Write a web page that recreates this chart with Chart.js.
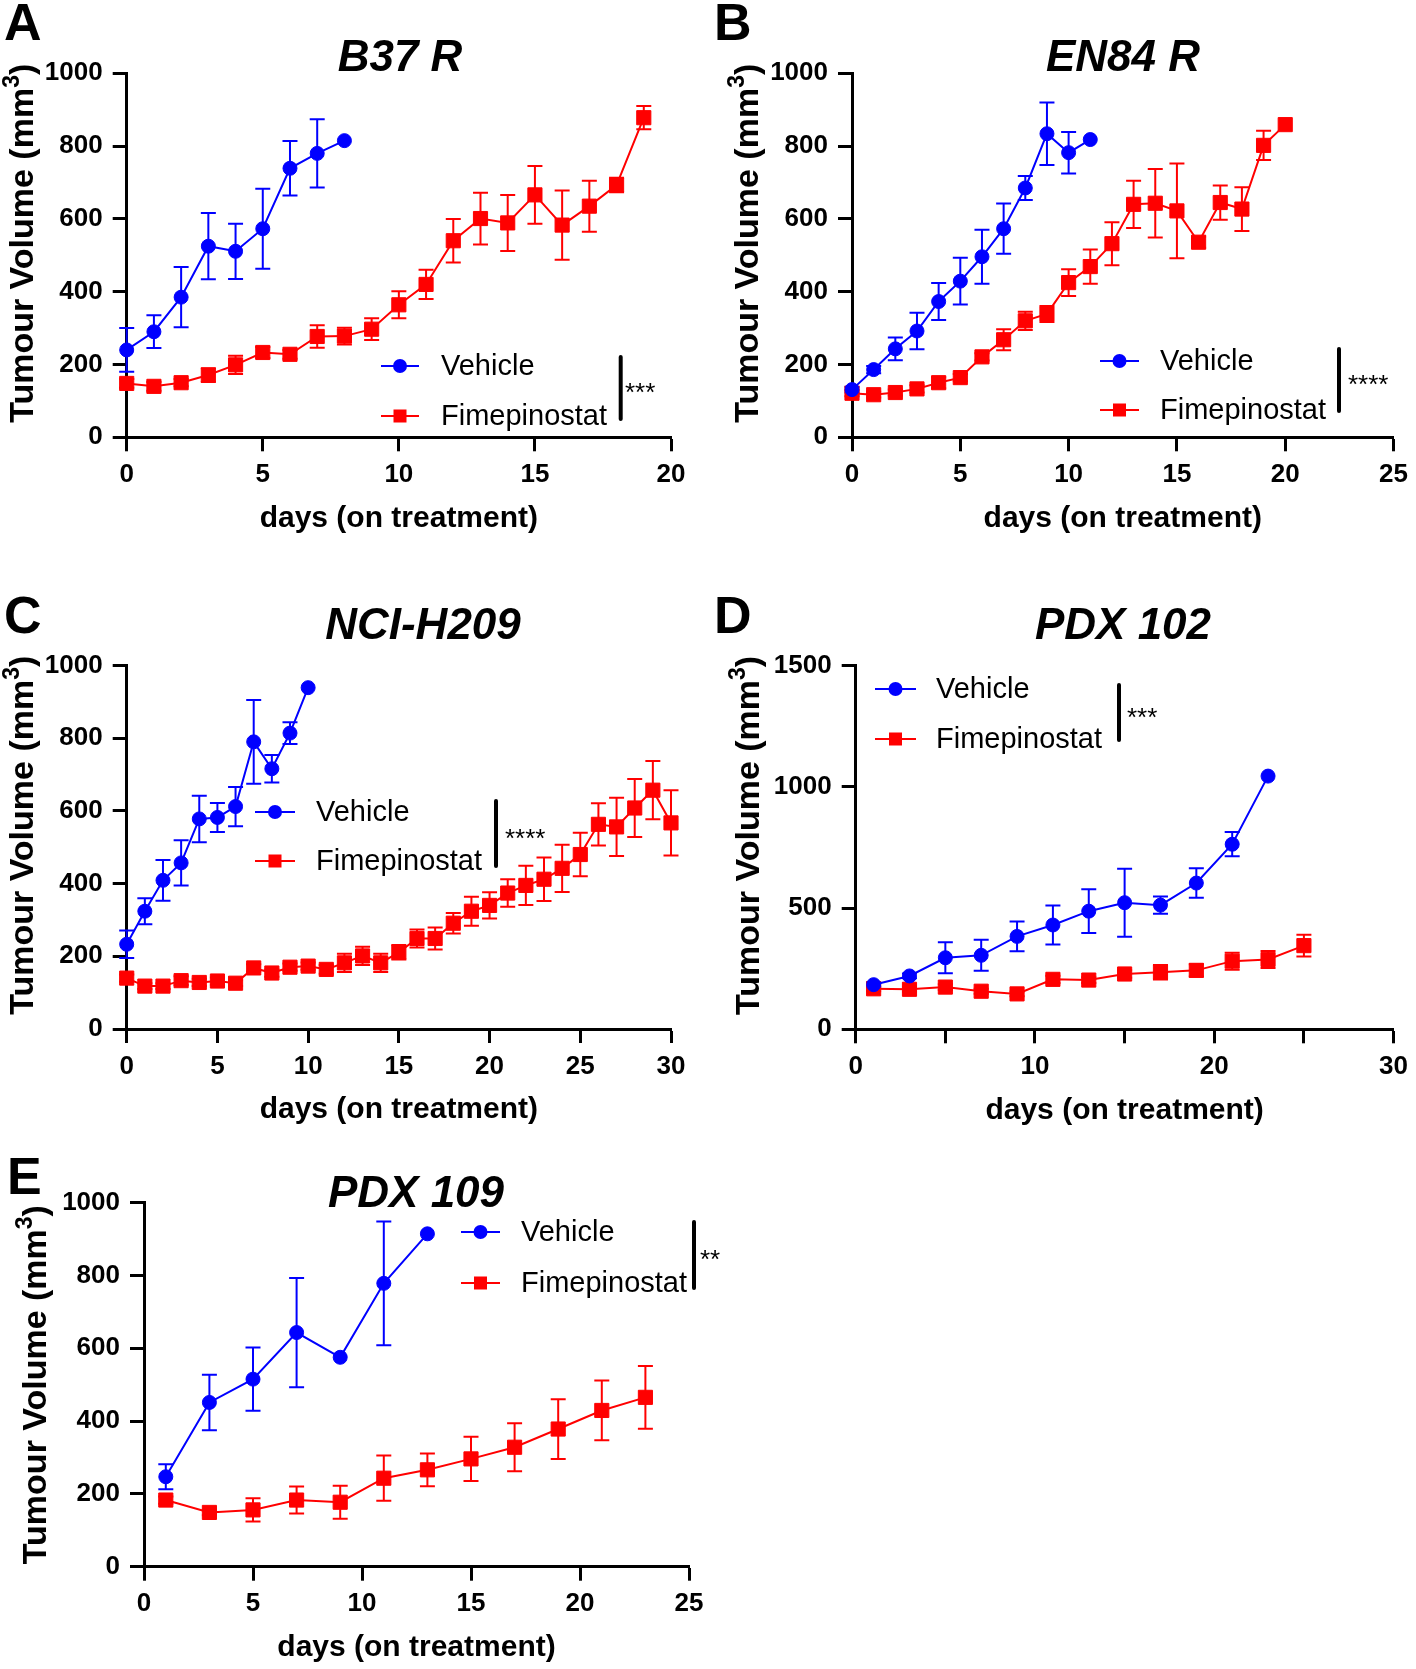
<!DOCTYPE html>
<html>
<head>
<meta charset="utf-8">
<script src="https://cdn.jsdelivr.net/npm/chart.js@4"></script>
<style>
  html, body { margin: 0; padding: 0; background: #fff; }
  #wrap { position: relative; width: 1416px; height: 1669px; }
  #wrap canvas { position: absolute; left: 0; top: 0; }
</style>
</head>
<body>
<div id="wrap">
  <canvas id="cA" width="1416" height="1669"></canvas>
  <canvas id="cB" width="1416" height="1669"></canvas>
  <canvas id="cC" width="1416" height="1669"></canvas>
  <canvas id="cD" width="1416" height="1669"></canvas>
  <canvas id="cE" width="1416" height="1669"></canvas>
</div>
<script>
// ---- data (mean and SEM, mm3) ----

// A - B37 R
let daysVehA = [0, 1, 2, 3, 4, 5, 6, 7, 8];
let vehA     = [240, 290, 385, 525, 511, 573, 739, 780, 815];
let vehSemA  = [60, 45, 83, 91, 76, 110, 75, 94, 0];
let daysFimA = [0, 1, 2, 3, 4, 5, 6, 7, 8, 9, 10, 11, 12, 13, 14, 15, 16, 17, 18, 19];
let fimA     = [148, 140, 150, 171, 199, 233, 228, 277, 278, 297, 364, 420, 540, 601, 589, 666, 583, 635, 693, 878];
let fimSemA  = [12, 12, 10, 19, 25, 15, 12, 31, 23, 30, 37, 40, 60, 71, 77, 79, 95, 70, 20, 32];

// B - EN84 R
let daysVehB = [0, 1, 2, 3, 4, 5, 6, 7, 8, 9, 10, 11];
let vehB     = [131, 186, 243, 292, 373, 429, 496, 573, 685, 834, 782, 818];
let vehSemB  = [8, 10, 31, 50, 51, 64, 74, 69, 33, 86, 57, 0];
let daysFimB = [0, 1, 2, 3, 4, 5, 6, 7, 8, 9, 10, 11, 12, 13, 14, 15, 16, 17, 18, 19, 20];
let fimB     = [121, 117, 123, 133, 150, 164, 221, 268, 320, 339, 425, 469, 532, 640, 643, 622, 536, 645, 627, 802, 859];
let fimSemB  = [8, 8, 8, 10, 15, 10, 10, 29, 25, 22, 37, 47, 59, 65, 94, 130, 15, 47, 60, 40, 0];

// C - NCI-H209
let daysVehC = [0, 1, 2, 3, 4, 5, 6, 7, 8, 9, 10];
let vehC     = [233, 324, 409, 457, 578, 582, 612, 790, 716, 814, 939];
let vehSemC  = [38, 36, 56, 62, 64, 40, 54, 115, 38, 30, 0];
let daysFimC = [0, 1, 2, 3, 4, 5, 6, 7, 8, 9, 10, 11, 12, 13, 14, 15, 16, 17, 18, 19, 20, 21, 22, 23, 24, 25, 26, 27, 28, 29, 30];
let fimC     = [140, 118, 118, 133, 128, 132, 126, 168, 154, 170, 173, 164, 182, 201, 182, 211, 249, 249, 291, 324, 340, 374, 395, 412, 442, 480, 563, 556, 608, 657, 567];
let fimSemC  = [10, 8, 8, 12, 10, 10, 8, 10, 10, 10, 10, 12, 25, 25, 25, 20, 25, 30, 28, 40, 36, 38, 54, 60, 65, 60, 58, 80, 80, 80, 90];

// D - PDX 102
let daysVehD = [1, 3, 5, 7, 9, 11, 13, 15, 17, 19, 21, 23];
let vehD     = [184, 220, 295, 305, 383, 430, 487, 522, 512, 603, 763, 1044];
let vehSemD  = [10, 10, 64, 64, 61, 80, 90, 140, 36, 61, 50, 0];
let daysFimD = [1, 3, 5, 7, 9, 11, 13, 15, 17, 19, 21, 23, 25];
let fimD     = [167, 165, 174, 157, 146, 206, 203, 228, 235, 243, 281, 288, 345];
let fimSemD  = [10, 10, 12, 10, 10, 15, 12, 15, 30, 25, 35, 35, 45];

// E - PDX 109
let daysVehE = [1, 3, 5, 7, 9, 11, 13];
let vehE     = [247, 451, 515, 643, 575, 778, 914];
let vehSemE  = [34, 76, 87, 150, 0, 170, 0];
let daysFimE = [1, 3, 5, 7, 9, 11, 13, 15, 17, 19, 21, 23];
let fimE     = [183, 149, 156, 183, 177, 243, 266, 296, 328, 378, 429, 465];
let fimSemE  = [10, 8, 32, 37, 45, 62, 45, 61, 66, 82, 82, 86];

let seriesNames = ['Vehicle', 'Fimepinostat'];
let blue = '#0000ff';
let red = '#ff0000';
let FONT = '"Liberation Sans", Arial, sans-serif';

// ---- layout of the five panels (page pixels) ----
let panels = [
  { id: 'cA', letter: 'A', lx: 4, ly: 40, title: 'B37 R', tx: 400, ty: 71,
    area: [126.7, 73.3, 671, 437.3], xMax: 20, xStep: 5, labelEvery: 5, yMax: 1000, yStep: 200,
    yTitleX: 21, yTitleShift: -12,
    leg: [381, 419, 441, 366, 416], sig: [620.7, 357, 419, 625], stars: '***',
    veh: [daysVehA, vehA, vehSemA], fim: [daysFimA, fimA, fimSemA] },
  { id: 'cB', letter: 'B', lx: 714, ly: 40, title: 'EN84 R', tx: 1123, ty: 71,
    area: [852, 73.3, 1398.3, 437.3], xMax: 25, xStep: 5, labelEvery: 5, yMax: 1000, yStep: 200,
    yTitleX: 746, yTitleShift: -12,
    leg: [1100, 1139, 1160, 361, 410], sig: [1339, 349, 411, 1348], stars: '****',
    veh: [daysVehB, vehB, vehSemB], fim: [daysFimB, fimB, fimSemB] },
  { id: 'cC', letter: 'C', lx: 4, ly: 633, title: 'NCI-H209', tx: 423, ty: 639,
    area: [126.7, 665.5, 671, 1029], xMax: 30, xStep: 5, labelEvery: 5, yMax: 1000, yStep: 200,
    yTitleX: 21, yTitleShift: -12,
    leg: [255, 295, 316, 812, 861], sig: [496, 801, 866, 505], stars: '****',
    veh: [daysVehC, vehC, vehSemC], fim: [daysFimC, fimC, fimSemC] },
  { id: 'cD', letter: 'D', lx: 714, ly: 633, title: 'PDX 102', tx: 1123, ty: 639,
    area: [855.7, 665.5, 1401, 1029.3], xMax: 30, xStep: 5, labelEvery: 10, yMax: 1500, yStep: 500,
    yTitleX: 747, yTitleShift: -12,
    leg: [875, 916, 936, 689, 739], sig: [1119, 685, 740, 1127], stars: '***',
    veh: [daysVehD, vehD, vehSemD], fim: [daysFimD, fimD, fimSemD] },
  { id: 'cE', letter: 'E', lx: 7, ly: 1194, title: 'PDX 109', tx: 416, ty: 1207,
    area: [144, 1202.5, 689, 1566.7], xMax: 25, xStep: 5, labelEvery: 5, yMax: 1000, yStep: 200,
    yTitleX: 34, yTitleShift: 0,
    leg: [461, 500, 521, 1232, 1283], sig: [694, 1222, 1288, 700], stars: '**',
    veh: [daysVehE, vehE, vehSemE], fim: [daysFimE, fimE, fimSemE] }
];

let deco = {};
panels.forEach(function (p) { deco[p.id] = p; });

function points(days, vals) {
  return days.map(function (d, i) { return { x: d, y: vals[i] }; });
}

function drawMarker(ctx, style, x, y, color) {
  ctx.fillStyle = color;
  if (style === 'circle') {
    ctx.beginPath();
    ctx.arc(x, y, 7, 0, Math.PI * 2);
    ctx.fill();
  } else {
    ctx.fillRect(x - 6.5, y - 6.5, 13, 13);
  }
}

// error bars (SEM) and all the panel decoration
let panelPlugin = {
  id: 'panelDeco',
  beforeDatasetsDraw: function (chart) {
    let ctx = chart.ctx, xs = chart.scales.x, ys = chart.scales.y;
    chart.data.datasets.forEach(function (ds) {
      ctx.save();
      ctx.strokeStyle = ds.borderColor;
      ctx.lineWidth = 2;
      ds.data.forEach(function (pt, i) {
        let e = ds.sem[i];
        if (!e) return;
        let px = xs.getPixelForValue(pt.x);
        let top = ys.getPixelForValue(pt.y + e);
        let bot = ys.getPixelForValue(pt.y - e);
        ctx.beginPath();
        ctx.moveTo(px, top); ctx.lineTo(px, bot);
        ctx.moveTo(px - 7.5, top); ctx.lineTo(px + 7.5, top);
        ctx.moveTo(px - 7.5, bot); ctx.lineTo(px + 7.5, bot);
        ctx.stroke();
      });
      ctx.restore();
    });
  },
  afterDraw: function (chart) {
    let p = deco[chart.canvas.id];
    let ctx = chart.ctx, a = chart.chartArea;
    ctx.save();
    ctx.fillStyle = '#000';

    // panel letter
    ctx.textAlign = 'left';
    ctx.textBaseline = 'alphabetic';
    ctx.font = 'bold 52px ' + FONT;
    ctx.fillText(p.letter, p.lx, p.ly);

    // title
    ctx.textAlign = 'center';
    ctx.font = 'italic bold 44px ' + FONT;
    ctx.fillText(p.title, p.tx, p.ty);

    // x axis title
    ctx.font = 'bold 30px ' + FONT;
    ctx.textBaseline = 'middle';
    ctx.fillText('days (on treatment)', (a.left + a.right) / 2, a.bottom + 81);

    // y axis title with superscript
    ctx.save();
    ctx.translate(p.yTitleX, (a.top + a.bottom) / 2 + p.yTitleShift);
    ctx.rotate(-Math.PI / 2);
    ctx.textAlign = 'left';
    ctx.textBaseline = 'alphabetic';
    let big = 'bold 34px ' + FONT, small = 'bold 23px ' + FONT;
    ctx.font = big;
    let s1 = 'Tumour Volume (mm', s3 = ')';
    let w1 = ctx.measureText(s1).width, w3 = ctx.measureText(s3).width;
    ctx.font = small;
    let w2 = ctx.measureText('3').width;
    let x0 = -(w1 + w2 + w3) / 2;
    ctx.font = big;
    ctx.fillText(s1, x0, 12);
    ctx.font = small;
    ctx.fillText('3', x0 + w1, -2);
    ctx.font = big;
    ctx.fillText(s3, x0 + w1 + w2, 12);
    ctx.restore();

    // legend
    let L = p.leg;
    [[blue, 'circle', L[3]], [red, 'rect', L[4]]].forEach(function (it, k) {
      ctx.strokeStyle = it[0];
      ctx.lineWidth = 2;
      ctx.beginPath();
      ctx.moveTo(L[0], it[2]); ctx.lineTo(L[1], it[2]);
      ctx.stroke();
      drawMarker(ctx, it[1], (L[0] + L[1]) / 2, it[2], it[0]);
      ctx.fillStyle = '#000';
      ctx.font = '29px ' + FONT;
      ctx.textAlign = 'left';
      ctx.textBaseline = 'middle';
      ctx.fillText(seriesNames[k], L[2], it[2] + 1);
    });

    // significance bar
    let S = p.sig;
    ctx.strokeStyle = '#000';
    ctx.lineWidth = 4;
    ctx.lineCap = 'round';
    ctx.beginPath();
    ctx.moveTo(S[0], S[1]); ctx.lineTo(S[0], S[2]);
    ctx.stroke();
    ctx.font = '26px ' + FONT;
    ctx.textAlign = 'left';
    ctx.textBaseline = 'alphabetic';
    ctx.fillText(p.stars, S[3], (S[1] + S[2]) / 2 + 13);

    ctx.restore();
  }
};

Chart.defaults.font.family = FONT;
Chart.defaults.color = '#000';

function axisStyle() {
  return {
    grid: { drawOnChartArea: false, drawTicks: true, color: '#000', tickColor: '#000', tickLength: 14, tickWidth: 3 },
    border: { display: true, color: '#000', width: 3 }
  };
}

panels.forEach(function (p) {
  let L = p.area[0], T = p.area[1], R = p.area[2], B = p.area[3];
  let xAxis = axisStyle(), yAxis = axisStyle();

  new Chart(document.getElementById(p.id), {
    type: 'line',
    data: {
      datasets: [
        { label: seriesNames[0], data: points(p.veh[0], p.veh[1]), sem: p.veh[2],
          borderColor: blue, backgroundColor: blue, borderWidth: 2,
          pointStyle: 'circle', pointRadius: 7, pointBorderWidth: 1, pointHoverRadius: 7,
          tension: 0, clip: false },
        { label: seriesNames[1], data: points(p.fim[0], p.fim[1]), sem: p.fim[2],
          borderColor: red, backgroundColor: red, borderWidth: 2,
          pointStyle: 'rect', pointRadius: 10, pointBorderWidth: 1, pointHoverRadius: 10,
          tension: 0, clip: false }
      ]
    },
    options: {
      responsive: false,
      animation: false,
      devicePixelRatio: 1,
      events: [],
      layout: { padding: { left: L - 100, top: T, right: 1416 - R, bottom: 1669 - B - 60 } },
      plugins: { legend: { display: false }, tooltip: { enabled: false } },
      scales: {
        x: Object.assign(xAxis, {
          type: 'linear', min: 0, max: p.xMax,
          afterFit: function (s) { s.height = 60; },
          ticks: { stepSize: p.xStep, autoSkip: false, maxRotation: 0, padding: 8,
                   font: { size: 26, weight: 'bold' }, color: '#000',
                   callback: function (v) { return v % p.labelEvery === 0 ? String(v) : ''; } }
        }),
        y: Object.assign(yAxis, {
          type: 'linear', min: 0, max: p.yMax,
          afterFit: function (s) { s.width = 100; },
          ticks: { stepSize: p.yStep, autoSkip: false, padding: 10,
                   font: { size: 26, weight: 'bold' }, color: '#000',
                   callback: function (v) { return String(v); } }
        })
      }
    },
    plugins: [panelPlugin]
  });
});
</script>
</body>
</html>
